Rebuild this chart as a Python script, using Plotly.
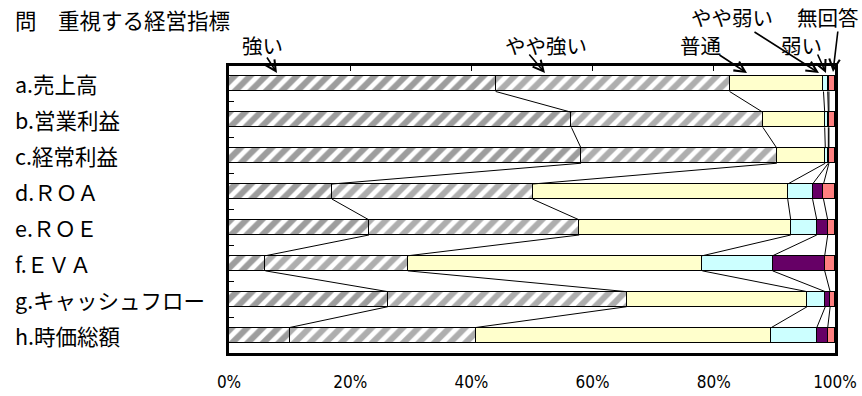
import plotly.graph_objects as go

# ---------------- data ----------------
categories = ["a.売上高", "b.営業利益", "c.経常利益", "d.ＲＯＡ", "e.ＲＯＥ",
              "f.ＥＶＡ", "g.キャッシュフロー", "h.時価総額"]
series_names = ["強い", "やや強い", "普通", "やや弱い", "弱い", "無回答"]
strong      = [44.0, 56.5, 58.1, 17.0, 23.1,  6.0, 26.2, 10.0]
some_strong = [38.6, 31.6, 32.3, 33.1, 34.7, 23.5, 39.4, 30.7]
normal      = [15.5, 10.2,  8.0, 42.1, 34.9, 48.6, 29.8, 48.8]
some_weak   = [ 0.7,  0.6,  0.5,  4.1,  4.3, 11.6,  3.0,  7.5]
weak        = [ 0.2,  0.1,  0.1,  1.8,  1.8,  8.6,  0.8,  1.8]
no_answer   = [ 1.0,  1.0,  1.0,  1.9,  1.2,  1.7,  0.8,  1.2]
x_ticks = [0, 20, 40, 60, 80, 100]
x_tick_labels = ["0%", "20%", "40%", "60%", "80%", "100%"]
title_text = "問　重視する経営指標"

series_values = [strong, some_strong, normal, some_weak, weak, no_answer]

# ---------------- style ----------------
W, H = 862, 396
ML, MR, MT, MB = 229, 27, 66, 43
PW, PH = W - ML - MR, H - MT - MB
JP = "Noto Sans CJK JP, Noto Sans, sans-serif"
NUM_FAMILY = "Liberation Sans Narrow, DejaVu Sans Condensed, Liberation Sans, Arial, sans-serif"
BAR_W = 0.42

try:
    tick_font = go.layout.xaxis.Tickfont(family=NUM_FAMILY, size=18, color="black",
                                         stretch="condensed")
except Exception:
    tick_font = go.layout.xaxis.Tickfont(family=NUM_FAMILY, size=17, color="black")

styles = [
    dict(color="white", pattern=dict(shape="/", fgcolor="#3c3c3c", bgcolor="white", size=11, solidity=0.55)),
    dict(color="white", pattern=dict(shape="/", fgcolor="#5e5e5e", bgcolor="white", size=11, solidity=0.55)),
    dict(color="#FFFFCC"),
    dict(color="#CCFFFF"),
    dict(color="#660066"),
    dict(color="#FF8080"),
]

ypos = list(range(len(categories)))
fig = go.Figure()
for name, vals, st in zip(series_names, series_values, styles):
    marker = dict(line=dict(color="black", width=1.2), **st)
    fig.add_trace(go.Bar(x=vals, y=ypos, orientation="h", name=name,
                         width=BAR_W, marker=marker, showlegend=False,
                         hoverinfo="x+name"))

# series lines (connect segment boundaries between consecutive bars)
cums = []
for i in range(len(categories)):
    s, row = 0.0, []
    for vals in series_values[:-1]:
        s += vals[i]
        row.append(s)
    cums.append(row)
lx, ly = [], []
for i in range(len(categories) - 1):
    for k in range(len(series_values) - 1):
        lx += [cums[i][k], cums[i + 1][k], None]
        ly += [i + BAR_W / 2, i + 1 - BAR_W / 2, None]
fig.add_trace(go.Scatter(x=lx, y=ly, mode="lines", xaxis="x2",
                         line=dict(color="black", width=1),
                         showlegend=False, hoverinfo="skip"))

# ---------------- annotations ----------------
def px2paper(px, py):
    return (px - ML) / PW, 1 - (py - MT) / PH

annotations = []
for i, c in enumerate(categories):
    annotations.append(dict(text=c, xref="paper", yref="y", x=(13 - ML) / PW, y=i,
                            xanchor="left", yanchor="middle", showarrow=False,
                            font=dict(family=JP, size=21.5, color="black")))
tx, ty = px2paper(13, 19)
annotations.append(dict(text=title_text, xref="paper", yref="paper", x=tx, y=ty,
                        xanchor="left", yanchor="middle", showarrow=False,
                        font=dict(family=JP, size=21.5, color="black")))

# legend labels with arrows: (label centre), (arrow tail), (arrow tip) in pixels
legend_layout = [
    ((262, 45), (266, 56), (277, 73)),
    ((546, 45), (528, 53), (545, 73)),
    ((700, 45), (718, 54), (747, 73)),
    ((732, 17), (753, 31), (819, 73)),
    ((801, 45), (817, 53), (826, 73)),
    ((828, 17), (838, 30), (833, 72)),
]
for name, (lab, tail, tip) in zip(series_names, legend_layout):
    lxp, lyp = px2paper(*lab)
    annotations.append(dict(text=name, xref="paper", yref="paper", x=lxp, y=lyp,
                            xanchor="center", yanchor="middle", showarrow=False,
                            borderpad=0,
                            font=dict(family=JP, size=20.5, color="black")))
    tipx, tipy = px2paper(*tip)
    annotations.append(dict(text="", xref="paper", yref="paper", x=tipx, y=tipy,
                            ax=tail[0] - tip[0], ay=tail[1] - tip[1],
                            showarrow=True, arrowhead=5, arrowsize=1.3,
                            arrowwidth=1.6, arrowcolor="black"))

fig.update_layout(
    width=W, height=H, autosize=False,
    margin=dict(l=ML, r=MR, t=MT, b=MB, pad=0, autoexpand=False),
    paper_bgcolor="white", plot_bgcolor="white",
    barmode="stack", bargap=0,
    annotations=annotations,
    xaxis=dict(range=[0, 100], tickvals=x_ticks, ticktext=x_tick_labels,
               ticks="", showgrid=False, zeroline=False, automargin=False,
               showline=True, linecolor="black", linewidth=3, mirror=True,
               tickfont=tick_font, ticklabelstandoff=12, fixedrange=True),
    xaxis2=dict(range=[0, 100], overlaying="x", side="top", anchor="y",
                tickvals=x_ticks[1:-1], ticks="inside", ticklen=5, tickwidth=1,
                tickcolor="black", showticklabels=False, showgrid=False,
                zeroline=False, showline=False, fixedrange=True, automargin=False),
    yaxis=dict(range=[len(categories) - 0.5, -0.5],
               tickvals=[i + 0.5 for i in range(len(categories) - 1)],
               ticks="inside", ticklen=5, tickwidth=1, tickcolor="black",
               showticklabels=False, showgrid=False, zeroline=False,
               showline=True, linecolor="black", linewidth=3, mirror=True,
               fixedrange=True, automargin=False),
)

fig.write_html("out.html")
